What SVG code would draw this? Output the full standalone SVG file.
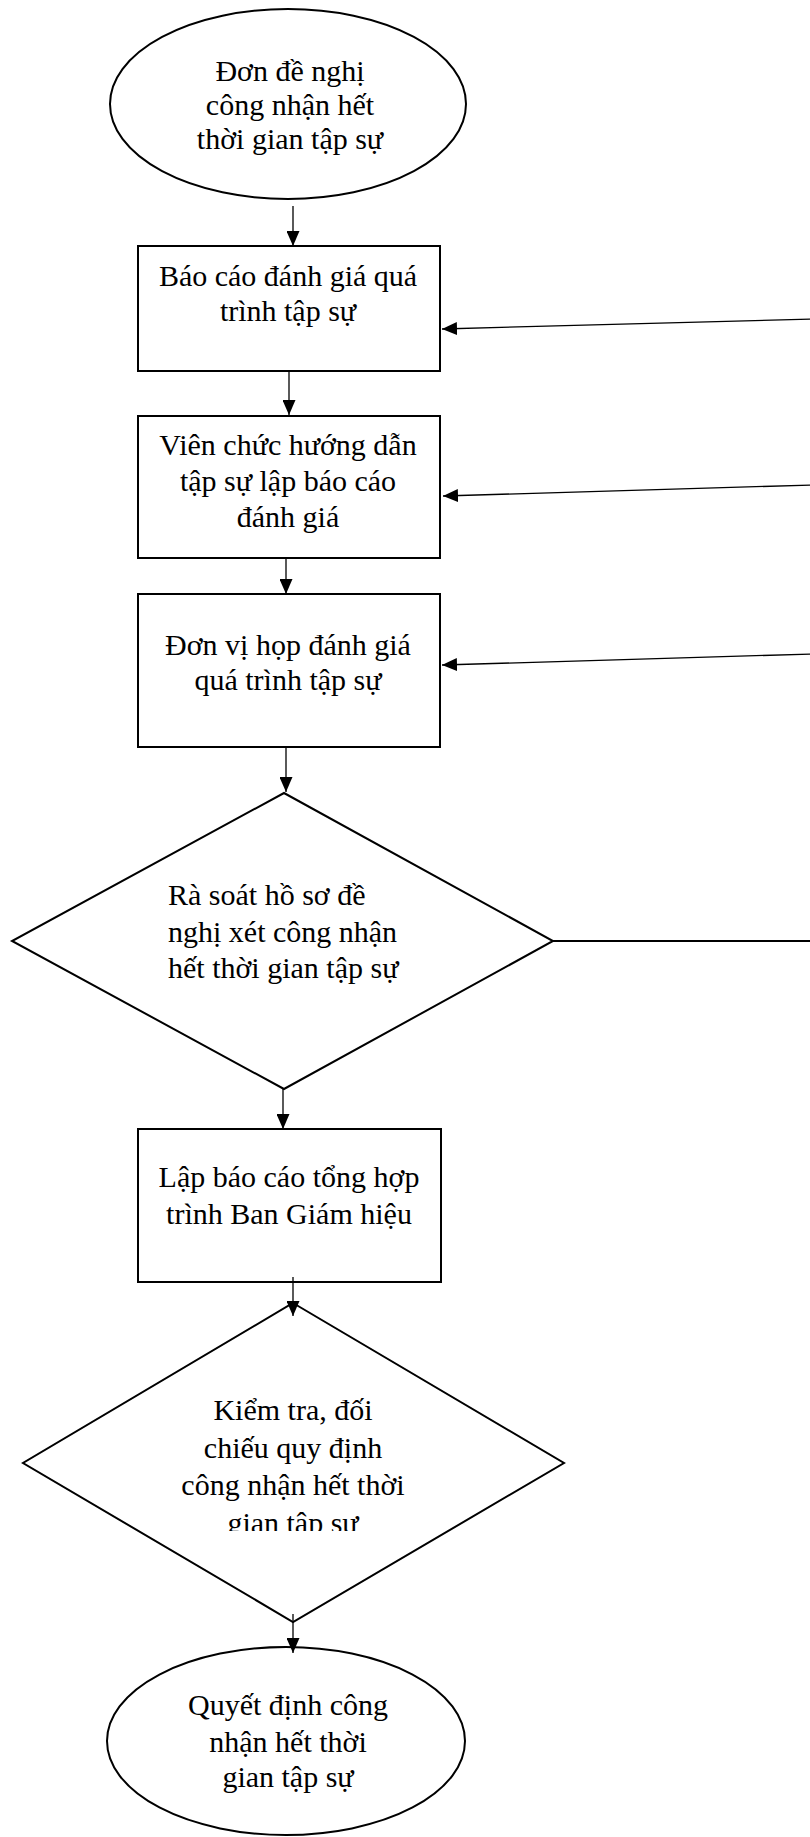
<svg xmlns="http://www.w3.org/2000/svg" width="810" height="1837" viewBox="0 0 810 1837">
  <style>
    .shape { fill: #ffffff; stroke: #000000; stroke-width: 2; }
    .lbl { font-family: "Liberation Serif", "Times New Roman", serif; font-size: 30px; fill: #000000; }
    .mid { text-anchor: middle; }
    .conn { fill: none; stroke: #000000; stroke-width: 1.3; }
    .thick { stroke-width: 2; }
  </style>
  <defs>
    <marker id="arrow" markerUnits="userSpaceOnUse" markerWidth="16" markerHeight="13" refX="15" refY="6.5" orient="auto">
      <path d="M0,0 L15,6.5 L0,13 Z" fill="#000000"/>
    </marker>
    <clipPath id="clip-check">
      <rect x="0" y="1380" width="810" height="151"/>
    </clipPath>
  </defs>

  <rect width="810" height="1837" fill="#ffffff"/>

  <!-- start: application -->
  <g id="node-start">
    <ellipse class="shape" cx="288" cy="104" rx="178" ry="95"/>
    <text class="lbl mid" x="290" y="81">Đơn đề nghị</text>
    <text class="lbl mid" x="290" y="115">công nhận hết</text>
    <text class="lbl mid" x="290" y="149">thời gian tập sự</text>
  </g>

  <g id="node-report">
    <rect class="shape" x="138" y="246" width="302" height="125"/>
    <text class="lbl mid" x="288" y="286">Báo cáo đánh giá quá</text>
    <text class="lbl mid" x="288" y="321">trình tập sự</text>
  </g>

  <g id="node-mentor">
    <rect class="shape" x="138" y="416" width="302" height="142"/>
    <text class="lbl mid" x="288" y="455">Viên chức hướng dẫn</text>
    <text class="lbl mid" x="288" y="491">tập sự lập báo cáo</text>
    <text class="lbl mid" x="288" y="527">đánh giá</text>
  </g>

  <g id="node-meeting">
    <rect class="shape" x="138" y="594" width="302" height="153"/>
    <text class="lbl mid" x="288" y="655">Đơn vị họp đánh giá</text>
    <text class="lbl mid" x="288" y="690">quá trình tập sự</text>
  </g>

  <g id="node-review">
    <polygon class="shape" points="284,793 553,941 284,1089 12,941"/>
    <text class="lbl" x="168" y="905">Rà soát hồ sơ đề</text>
    <text class="lbl" x="168" y="942">nghị xét công nhận</text>
    <text class="lbl" x="168" y="978">hết thời gian tập sự</text>
  </g>

  <g id="node-summary">
    <rect class="shape" x="138" y="1129" width="303" height="153"/>
    <text class="lbl mid" x="289" y="1187">Lập báo cáo tổng hợp</text>
    <text class="lbl mid" x="289" y="1224">trình Ban Giám hiệu</text>
  </g>

  <g id="node-check">
    <polygon class="shape" points="293,1303 564,1463 293,1622 23,1463"/>
    <g clip-path="url(#clip-check)">
      <text class="lbl mid" x="293" y="1420">Kiểm tra, đối</text>
      <text class="lbl mid" x="293" y="1458">chiếu quy định</text>
      <text class="lbl mid" x="293" y="1495">công nhận hết thời</text>
      <text class="lbl mid" x="293" y="1533">gian tập sự</text>
    </g>
  </g>

  <!-- end: decision -->
  <g id="node-end">
    <ellipse class="shape" cx="286" cy="1741" rx="179" ry="94"/>
    <text class="lbl mid" x="288" y="1715">Quyết định công</text>
    <text class="lbl mid" x="288" y="1752">nhận hết thời</text>
    <text class="lbl mid" x="288" y="1787">gian tập sự</text>
  </g>

  <g id="connectors">
    <line class="conn" x1="293" y1="206" x2="293" y2="246" marker-end="url(#arrow)"/>
    <line class="conn" x1="289" y1="371" x2="289" y2="415" marker-end="url(#arrow)"/>
    <line class="conn" x1="286" y1="558" x2="286" y2="594" marker-end="url(#arrow)"/>
    <line class="conn" x1="286" y1="747" x2="286" y2="792" marker-end="url(#arrow)"/>
    <line class="conn" x1="283" y1="1089" x2="283" y2="1129" marker-end="url(#arrow)"/>
    <line class="conn" x1="293" y1="1277" x2="293" y2="1316" marker-end="url(#arrow)"/>
    <line class="conn" x1="293" y1="1614" x2="293" y2="1653" marker-end="url(#arrow)"/>
    <!-- return path from the review step -->
    <line class="conn thick" x1="553" y1="941" x2="812" y2="941"/>
    <line class="conn" x1="812" y1="319" x2="442" y2="329" marker-end="url(#arrow)"/>
    <line class="conn" x1="812" y1="485" x2="443" y2="496" marker-end="url(#arrow)"/>
    <line class="conn" x1="812" y1="654" x2="442" y2="665" marker-end="url(#arrow)"/>
  </g>
</svg>
